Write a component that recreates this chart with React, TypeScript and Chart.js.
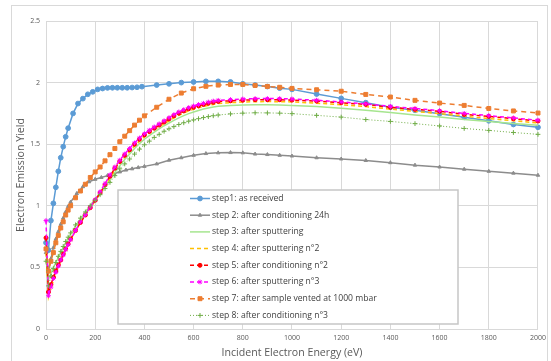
import React, { useEffect, useRef } from 'react';
import { Chart, registerables } from 'chart.js';
Chart.register(...registerables);

const LABELS = [
  'step1: as received',
  'step 2: after conditioning 24h',
  'step 3: after sputtering',
  'step 4: after sputtering n°2',
  'step 5: after conditioning n°2',
  'step 6: after sputtering n°3',
  'step 7: after sample vented at 1000 mbar',
  'step 8: after conditioning n°3',
];

const X_TICKS = [0, 200, 400, 600, 800, 1000, 1200, 1400, 1600, 1800, 2000];
const Y_TICKS = [0, 0.5, 1, 1.5, 2, 2.5];

const X_STEP1 = [0,10,20,30,40,50,60,70,80,90,110,130,150,170,190,210,230,250,270,290,310,330,350,370,390,450,500,550,600,650,700,750,800,850,900,950,1000,1100,1200,1300,1400,1500,1600,1700,1800,1900,2000];
const Y_STEP1 = [0.70,0.64,0.88,1.02,1.15,1.28,1.39,1.48,1.56,1.63,
  1.75,1.83,1.87,1.905,1.925,1.945,1.952,1.957,1.958,1.958,1.958,1.958,1.96,1.962,1.967,
  1.98,1.99,2.0,2.005,2.01,2.01,2.005,1.99,1.98,1.968,1.955,1.945,
  1.907,1.872,1.837,1.80,1.775,1.748,1.718,1.69,1.66,1.637];

const X_STEP2 = [0,10,20,30,40,50,60,70,80,90,100,125,150,175,200,225,250,275,300,325,350,375,400,450,500,550,600,650,700,750,800,850,900,950,1000,1100,1200,1300,1400,1500,1600,1700,1800,1900,2000];
const Y_STEP2 = [0.62,0.47,0.57,0.66,0.73,0.79,0.85,0.90,0.95,0.995,1.03,
  1.10,1.155,1.195,1.215,1.23,1.245,1.26,1.275,1.29,1.30,1.31,1.32,
  1.34,1.37,1.39,1.41,1.424,1.43,1.432,1.43,1.42,1.416,1.41,1.404,
  1.39,1.38,1.368,1.35,1.33,1.315,1.297,1.28,1.265,1.248];

const X_FINE = [0,10,20,30,40,50,60,70,80,90,100,120,140,160,180,200,220,240,260,280,300,320,340,360,380,400,420,440,460,480,500,520,540,560,580,600,620,640,660,680,700,750,800,850,900,950,1000,1100,1200,1300,1400,1500,1600,1700,1800,1900,2000];

const Y_STEP3 = [0.57,0.40,0.45,0.50,0.54,0.58,0.62,0.66,0.70,0.735,0.77,
  0.835,0.895,0.95,1.005,1.055,1.105,1.155,1.21,1.27,1.325,1.375,1.42,1.465,1.505,1.54,1.57,1.598,1.625,1.65,1.672,1.694,1.714,1.732,1.748,1.762,1.774,1.785,1.794,1.802,1.808,
  1.815,1.818,1.82,1.82,1.818,1.815,
  1.805,1.792,1.775,1.757,1.738,1.72,1.70,1.685,1.668,1.653];

const Y_STEP4 = [0.62,0.26,0.33,0.39,0.45,0.50,0.55,0.60,0.64,0.68,0.72,
  0.795,0.86,0.92,0.98,1.04,1.10,1.16,1.225,1.29,1.345,1.395,1.44,1.485,1.525,1.56,1.59,1.617,1.642,1.667,1.69,1.713,1.735,1.753,1.77,1.783,1.795,1.806,1.815,1.823,1.83,
  1.837,1.842,1.845,1.846,1.845,1.843,
  1.833,1.82,1.805,1.785,1.766,1.748,1.727,1.708,1.69,1.672];

const Y_STEP5 = [0.74,0.30,0.36,0.42,0.47,0.52,0.56,0.61,0.65,0.69,0.73,
  0.80,0.865,0.925,0.985,1.045,1.105,1.17,1.24,1.305,1.36,1.41,1.455,1.50,1.54,1.575,1.603,1.63,1.655,1.68,1.705,1.73,1.752,1.77,1.787,1.80,1.812,1.822,1.832,1.84,1.847,
  1.852,1.857,1.861,1.861,1.861,1.858,
  1.85,1.837,1.823,1.80,1.783,1.767,1.742,1.726,1.707,1.688];

const Y_STEP6 = [0.88,0.27,0.34,0.41,0.46,0.51,0.56,0.60,0.645,0.685,0.725,
  0.80,0.87,0.93,0.99,1.05,1.115,1.18,1.25,1.315,1.37,1.42,1.465,1.51,1.55,1.585,1.613,1.64,1.665,1.69,1.715,1.74,1.762,1.78,1.797,1.81,1.822,1.832,1.842,1.85,1.856,
  1.862,1.867,1.87,1.87,1.87,1.867,
  1.857,1.843,1.828,1.807,1.79,1.772,1.75,1.732,1.713,1.695];

const X_STEP7 = [0,10,20,30,40,50,60,70,80,90,100,120,140,160,180,200,220,240,260,280,300,320,340,360,380,400,450,500,550,600,650,700,750,800,850,900,950,1000,1100,1200,1300,1400,1500,1600,1700,1800,1900,2000];
const Y_STEP7 = [0.65,0.47,0.55,0.62,0.70,0.76,0.82,0.87,0.925,0.965,1.0,
  1.065,1.12,1.175,1.23,1.275,1.315,1.365,1.415,1.465,1.52,1.565,1.61,1.655,1.695,1.73,
  1.80,1.865,1.915,1.95,1.97,1.98,1.985,1.985,1.977,1.969,1.962,1.953,
  1.942,1.93,1.904,1.883,1.856,1.834,1.815,1.79,1.77,1.753];

const Y_STEP8 = [0.55,0.35,0.43,0.49,0.54,0.59,0.63,0.67,0.71,0.745,0.78,
  0.845,0.90,0.95,1.0,1.045,1.09,1.14,1.19,1.245,1.30,1.34,1.38,1.42,1.46,1.495,1.525,1.555,1.58,1.605,1.625,1.643,1.66,1.674,1.687,1.697,1.707,1.716,1.724,1.731,1.737,
  1.746,1.752,1.755,1.754,1.752,1.748,
  1.734,1.72,1.70,1.685,1.667,1.648,1.628,1.612,1.595,1.58];

const pts = (xs: number[], ys: number[]) => xs.map((x, i) => ({ x, y: ys[i] }));

const FONT = '"Open Sans", "Liberation Sans", sans-serif';

function drawMarker(ctx: CanvasRenderingContext2D, style: string, r: number, x: number, y: number, fill: string, stroke: string, bw: number) {
  if (!r) return;
  ctx.save();
  ctx.setLineDash([]);
  ctx.fillStyle = fill;
  ctx.strokeStyle = stroke;
  ctx.lineWidth = bw;
  ctx.beginPath();
  if (style === 'circle') {
    ctx.arc(x, y, r, 0, Math.PI * 2);
    ctx.fill();
    ctx.stroke();
  } else if (style === 'triangle') {
    ctx.moveTo(x, y - r);
    ctx.lineTo(x + r * 0.87, y + r * 0.5);
    ctx.lineTo(x - r * 0.87, y + r * 0.5);
    ctx.closePath();
    ctx.fill();
    ctx.stroke();
  } else if (style === 'rect') {
    const s = r * Math.SQRT1_2;
    ctx.rect(x - s, y - s, 2 * s, 2 * s);
    ctx.fill();
    ctx.stroke();
  } else if (style === 'cross') {
    ctx.moveTo(x - r, y); ctx.lineTo(x + r, y);
    ctx.moveTo(x, y - r); ctx.lineTo(x, y + r);
    ctx.stroke();
  } else if (style === 'star') {
    ctx.moveTo(x - r, y); ctx.lineTo(x + r, y);
    ctx.moveTo(x, y - r); ctx.lineTo(x, y + r);
    const d = r * Math.SQRT1_2;
    ctx.moveTo(x - d, y - d); ctx.lineTo(x + d, y + d);
    ctx.moveTo(x - d, y + d); ctx.lineTo(x + d, y - d);
    ctx.stroke();
  }
  ctx.restore();
}

const boxLegend = {
  id: 'boxLegend',
  afterDatasetsDraw(chart: any) {
    const ctx: CanvasRenderingContext2D = chart.ctx;
    ctx.save();
    const bx = 118, by = 190, bw = 340, bh = 134;
    ctx.fillStyle = '#ffffff';
    ctx.fillRect(bx, by, bw, bh);
    ctx.strokeStyle = '#c6c6c6';
    ctx.lineWidth = 1.5;
    ctx.strokeRect(bx, by, bw, bh);
    chart.data.datasets.forEach((ds: any, i: number) => {
      const y = by + 8.5 + i * 16.7;
      ctx.save();
      ctx.setLineDash(ds.borderDash || []);
      ctx.strokeStyle = ds.borderColor;
      ctx.lineWidth = ds.borderWidth;
      ctx.beginPath();
      ctx.moveTo(190, y);
      ctx.lineTo(210, y);
      ctx.stroke();
      ctx.restore();
      drawMarker(ctx, ds.pointStyle, ds.pointRadius, 200, y, ds.pointBackgroundColor, ds.pointBorderColor, ds.pointBorderWidth || 1);
      ctx.fillStyle = '#404040';
      ctx.font = '8.6px ' + FONT;
      ctx.textBaseline = 'middle';
      ctx.textAlign = 'left';
      ctx.fillText(ds.label, 212, y);
    });
    ctx.restore();
  },
};

export default function App() {
  const ref = useRef<HTMLCanvasElement | null>(null);
  useEffect(() => {
    if (!ref.current) return;
    const mk = (i: number, data: any[], color: string, extra: any) => ({
      label: LABELS[i],
      data,
      borderColor: color,
      backgroundColor: color,
      pointBackgroundColor: color,
      pointBorderColor: color,
      borderWidth: 1.5,
      pointBorderWidth: 1,
      pointRadius: 0,
      pointStyle: 'circle',
      tension: 0,
      fill: false,
      clip: 6,
      order: 8 - i,
      ...extra,
    });
    const chart = new Chart(ref.current, {
      type: 'line',
      data: {
        datasets: [
          mk(0, pts(X_STEP1, Y_STEP1), '#5B9BD5', { pointRadius: 2.4, pointStyle: 'circle' }),
          mk(1, pts(X_STEP2, Y_STEP2), '#8C8C8C', { pointRadius: 2, pointStyle: 'triangle' }),
          mk(2, pts(X_FINE, Y_STEP3), '#A6E58F', { pointRadius: 0 }),
          mk(3, pts(X_FINE, Y_STEP4), '#FFC000', { borderDash: [4, 3], pointRadius: 0 }),
          mk(4, pts(X_FINE, Y_STEP5), '#FF0000', { borderDash: [4, 3], pointRadius: 2, pointStyle: 'circle' }),
          mk(5, pts(X_FINE, Y_STEP6), '#FF00FF', { borderDash: [4, 3], pointRadius: 2.4, pointStyle: 'star' }),
          mk(6, pts(X_STEP7, Y_STEP7), '#ED7D31', { borderDash: [5, 4], pointRadius: 2.8, pointStyle: 'rect' }),
          mk(7, pts(X_FINE, Y_STEP8), '#70AD47', { borderDash: [1, 2], borderWidth: 1, pointRadius: 2.4, pointStyle: 'cross' }),
        ],
      },
      options: {
        animation: false,
        responsive: true,
        maintainAspectRatio: false,
        layout: { padding: { left: 0, top: 21, right: 10, bottom: 0 } },
        plugins: { legend: { display: false }, tooltip: { enabled: false } },
        scales: {
          x: {
            type: 'linear',
            min: 0,
            max: 2000,
            afterFit: (s: any) => { s.height = 32; },
            afterBuildTicks: (s: any) => { s.ticks = X_TICKS.map((v) => ({ value: v })); },
            ticks: {
              padding: 5,
              color: '#595959',
              font: { family: FONT, size: 7 },
              callback: (v: any) => String(v),
              maxRotation: 0,
            },
            grid: { color: '#d9d9d9', lineWidth: 1, drawTicks: false },
            border: { display: false },
            title: {
              display: true,
              text: 'Incident Electron Energy (eV)',
              color: '#595959',
              font: { family: FONT, size: 10.6 },
              padding: { top: 0, bottom: 2 },
            },
          },
          y: {
            type: 'linear',
            min: 0,
            max: 2.5,
            afterFit: (s: any) => { s.width = 46; },
            afterBuildTicks: (s: any) => { s.ticks = Y_TICKS.map((v) => ({ value: v })); },
            ticks: {
              padding: 6,
              color: '#595959',
              font: { family: FONT, size: 7 },
              callback: (v: any) => String(v),
            },
            grid: { color: '#d9d9d9', lineWidth: 1, drawTicks: false },
            border: { display: false },
            title: {
              display: true,
              text: 'Electron Emission Yield',
              color: '#595959',
              font: { family: FONT, size: 10.6 },
              padding: { top: 15, bottom: 0 },
            },
          },
        },
      },
      plugins: [boxLegend],
    } as any);
    return () => chart.destroy();
  }, []);

  return (
    <div style={{ position: 'absolute', left: 0, top: 0, width: 551, height: 361, background: '#fff', overflow: 'hidden' }}>
      <div style={{ position: 'absolute', left: 11, top: 5, width: 537, height: 360, border: '1px solid #d9d9d9', boxSizing: 'border-box' }} />
      <div style={{ position: 'absolute', left: 0, top: 0, width: 551, height: 361 }}>
        <canvas ref={ref} />
      </div>
    </div>
  );
}
